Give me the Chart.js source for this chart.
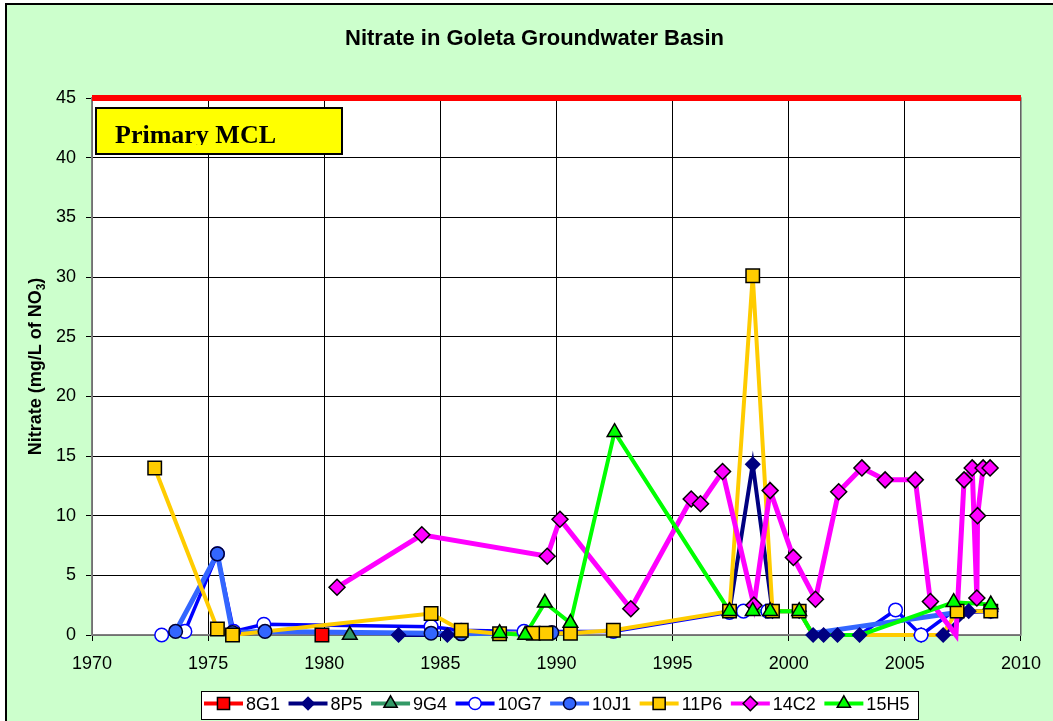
<!DOCTYPE html>
<html>
<head>
<meta charset="utf-8">
<title>Nitrate in Goleta Groundwater Basin</title>
<script src="https://cdn.jsdelivr.net/npm/chart.js@4.4.1/dist/chart.umd.min.js"></script>
<style>
  html, body { margin: 0; padding: 0; background: #fff; }
</style>
</head>
<body>
<canvas id="nitrateChart" width="1053" height="721"></canvas>
<script>
// ---- data (year, mg/L of NO3) ----
const yearTicks = [1970, 1975, 1980, 1985, 1990, 1995, 2000, 2005, 2010];
const nitrateTicks = [0, 5, 10, 15, 20, 25, 30, 35, 40, 45];
const mclLevel = 45;
const mclLabel = "Primary MCL";

const years8G1 = [1979.9];
const nitrate8G1 = [0];

const years8P5 = [1983.2, 1985.3, 1990, 1997.45, 1998.45, 1999.3, 2000.45, 2001.05, 2001.5, 2002.1, 2003.05, 2005.7, 2006.65, 2007.75, 2008.7];
const nitrate8P5 = [0, 0, null, 2, 14.3, 2, 2, 0, 0, 0, 0, 0, 0, 2, 2];

const years9G4 = [1981.1];
const nitrate9G4 = [0];

const years10G7 = [1973.0, 1974.0, 1975.4, 1976.1, 1977.4, 1984.6, 1985.9, 1988.6, 1992.45, 1997.45, 1998.05, 1999.1, 2001, 2003.05, 2004.6, 2005.7, 2006.95, 2008.7];
const nitrate10G7 = [0, 0.3, 6.8, 0.3, 0.9, 0.7, 0.4, 0.3, 0.3, 1.9, 2, 2, null, 0, 2.1, 0, 1.8, 2];

const years10J1 = [1973.6, 1975.4, 1976.05, 1977.45, 1984.6, 1985.9, 1989.8, 1995, 2001.2, 2006.95];
const nitrate10J1 = [0.3, 6.8, 0.2, 0.3, 0.15, 0.1, 0.2, null, 0.2, 1.8];

const years11P6 = [1972.7, 1975.4, 1976.05, 1984.6, 1985.9, 1987.55, 1989.0, 1989.55, 1990.6, 1992.45, 1997.45, 1998.45, 1999.3, 2000.45, 2001.05, 2006.6, 2007.25, 2008.7];
const nitrate11P6 = [14, 0.5, 0, 1.8, 0.4, 0.1, 0.15, 0.15, 0.15, 0.4, 2, 30.1, 2, 2, 0, 0, 2, 2];

const years14C2 = [1980.55, 1984.2, 1989.6, 1990.15, 1993.2, 1995.8, 1996.2, 1997.15, 1998.5, 1999.2, 2000.2, 2001.15, 2002.15, 2003.15, 2004.15, 2005.45, 2006.1, 2007.2, 2007.55, 2007.9, 2008.1, 2008.13, 2008.37, 2008.67];
const nitrate14C2 = [4, 8.4, 6.6, 9.7, 2.2, 11.4, 11, 13.7, 2.5, 12.1, 6.5, 3, 12, 14, 13, 13, 2.8, 0, 13, 14, 3.1, 10, 14, 14];

const years15H5 = [1987.55, 1988.65, 1989.5, 1990.6, 1992.5, 1997.45, 1998.45, 1999.2, 2000.45, 2001.05, 2003.1, 2007.1, 2008.7];
const nitrate15H5 = [0.15, 0, 2.7, 1.0, 17, 2, 2, 2, 2, 0, 0, 2.75, 2.55];

// points whose markers are covered in the original
const noMarker = {
  "10G7": [2003.05, 2006.95],
  "10J1": [2001.2, 2006.95],
  "11P6": [2001.05, 2006.6],
  "14C2": [2007.2],
  "15H5": [2001.05, 2003.1]
};

const FONT = '"Liberation Sans", Arial, sans-serif';

const series = [
  { name: "8G1",  years: years8G1,  values: nitrate8G1,  color: "#FF0000", width: 4,   style: "rect",    radius: 9.5, fill: "#FF0000", edge: "#000000" },
  { name: "8P5",  years: years8P5,  values: nitrate8P5,  color: "#000080", width: 4,   style: "rectRot", radius: 7,   fill: "#000080", edge: "#000080" },
  { name: "9G4",  years: years9G4,  values: nitrate9G4,  color: "#339966", width: 4,   style: "triangle",radius: 8.5, fill: "#339966", edge: "#000000" },
  { name: "10G7", years: years10G7, values: nitrate10G7, color: "#0000FF", width: 3.5, style: "circle",  radius: 6.8, fill: "#FFFFFF", edge: "#0000FF" },
  { name: "10J1", years: years10J1, values: nitrate10J1, color: "#3366FF", width: 5,   style: "circle",  radius: 6.8, fill: "#3366FF", edge: "#000033" },
  { name: "11P6", years: years11P6, values: nitrate11P6, color: "#FFCC00", width: 4,   style: "rect",    radius: 9.5, fill: "#FFCC00", edge: "#000000" },
  { name: "14C2", years: years14C2, values: nitrate14C2, color: "#FF00FF", width: 5,   style: "rectRot", radius: 8,   fill: "#FF00FF", edge: "#000000" },
  { name: "15H5", years: years15H5, values: nitrate15H5, color: "#00FF00", width: 4,   style: "triangle",radius: 8.5, fill: "#00FF00", edge: "#000000" }
];

function toPoints(s) {
  return s.years.map((yr, i) => ({ x: yr, y: s.values[i] }));
}

const datasets = [{
  label: "MCL",
  data: [{ x: yearTicks[0], y: mclLevel }, { x: yearTicks[yearTicks.length - 1], y: mclLevel }],
  showLine: true,
  borderColor: "#FF0000",
  borderWidth: 6,
  pointRadius: 0,
  clip: false,
  order: 300
}];

// lines first (Excel style), markers on top of all lines
series.forEach((s, i) => {
  datasets.push({
    label: s.name,
    data: toPoints(s),
    showLine: true,
    spanGaps: false,
    borderColor: s.color,
    borderWidth: s.width,
    pointRadius: 0,
    tension: 0,
    clip: false,
    order: 200 - i
  });
});
series.forEach((s, i) => {
  const hidden = noMarker[s.name] || [];
  datasets.push({
    label: s.name + " markers",
    data: toPoints(s),
    showLine: false,
    pointStyle: s.style,
    pointRadius: ctx => (ctx.raw && hidden.includes(ctx.raw.x)) ? 0 : s.radius,
    pointBackgroundColor: s.fill,
    pointBorderColor: s.edge,
    pointBorderWidth: 1.5,
    clip: false,
    order: 100 - i
  });
});

function drawMarker(ctx, style, x, y, r) {
  ctx.beginPath();
  if (style === "rect") {
    const h = Math.SQRT1_2 * r;
    ctx.rect(x - h, y - h, 2 * h, 2 * h);
  } else if (style === "rectRot") {
    ctx.moveTo(x - r, y); ctx.lineTo(x, y - r); ctx.lineTo(x + r, y); ctx.lineTo(x, y + r); ctx.closePath();
  } else if (style === "triangle") {
    ctx.moveTo(x, y - r);
    ctx.lineTo(x + r * Math.sin(Math.PI * 2 / 3), y - r * Math.cos(Math.PI * 2 / 3));
    ctx.lineTo(x - r * Math.sin(Math.PI * 2 / 3), y - r * Math.cos(Math.PI * 2 / 3));
    ctx.closePath();
  } else {
    ctx.arc(x, y, r, 0, Math.PI * 2);
  }
  ctx.fill();
  ctx.stroke();
}

const decor = {
  id: "decor",
  beforeDraw(chart) {
    const ctx = chart.ctx, a = chart.chartArea;
    ctx.save();
    ctx.fillStyle = "#FFFFFF";
    ctx.fillRect(0, 0, chart.width, chart.height);
    ctx.fillStyle = "#CCFFCC";
    ctx.fillRect(6, 4, chart.width, chart.height);
    ctx.strokeStyle = "#000000";
    ctx.lineWidth = 2;
    ctx.beginPath();
    ctx.moveTo(6, chart.height + 2);
    ctx.lineTo(6, 4);
    ctx.lineTo(chart.width + 2, 4);
    ctx.stroke();
    ctx.fillStyle = "#FFFFFF";
    ctx.fillRect(a.left, a.top, a.right - a.left, a.bottom - a.top);
    ctx.restore();
  },
  beforeDatasetsDraw(chart) {
    const ctx = chart.ctx, a = chart.chartArea;
    ctx.save();
    ctx.strokeStyle = "#808080";
    ctx.lineWidth = 1.5;
    ctx.strokeRect(a.left, a.top, a.right - a.left, a.bottom - a.top);
    ctx.restore();
  },
  afterDraw(chart) {
    const ctx = chart.ctx, a = chart.chartArea;
    ctx.save();

    // title
    ctx.fillStyle = "#000";
    ctx.font = "bold 22px " + FONT;
    ctx.textAlign = "center";
    ctx.textBaseline = "alphabetic";
    ctx.fillText("Nitrate in Goleta Groundwater Basin", 534.5, 45);

    // y axis title with subscript
    ctx.save();
    ctx.translate(34, (a.top + a.bottom) / 2);
    ctx.rotate(-Math.PI / 2);
    ctx.textAlign = "left";
    const t1 = "Nitrate (mg/L of NO", t2 = "3", t3 = ")";
    ctx.font = "bold 18px " + FONT;
    const w1 = ctx.measureText(t1).width, w3 = ctx.measureText(t3).width;
    ctx.font = "bold 12px " + FONT;
    const w2 = ctx.measureText(t2).width;
    let sx = -(w1 + w2 + w3) / 2;
    ctx.font = "bold 18px " + FONT;
    ctx.fillText(t1, sx, 6.5);
    ctx.font = "bold 12px " + FONT;
    ctx.fillText(t2, sx + w1, 11);
    ctx.font = "bold 18px " + FONT;
    ctx.fillText(t3, sx + w1 + w2, 6.5);
    ctx.restore();

    // Primary MCL box
    ctx.fillStyle = "#FFFF00";
    ctx.fillRect(96, 108, 246, 46);
    ctx.strokeStyle = "#000";
    ctx.lineWidth = 2;
    ctx.strokeRect(96, 108, 246, 46);
    ctx.save();
    ctx.beginPath();
    ctx.rect(97, 109, 244, 36);
    ctx.clip();
    ctx.fillStyle = "#000";
    ctx.font = 'bold 26px "Liberation Serif", "Times New Roman", serif';
    ctx.textAlign = "left";
    ctx.fillText(mclLabel, 115, 143);
    ctx.restore();

    // legend
    ctx.fillStyle = "#FFFFFF";
    ctx.fillRect(201, 691, 717, 28);
    ctx.strokeStyle = "#000";
    ctx.lineWidth = 1;
    ctx.strokeRect(201.5, 691.5, 717, 28);
    ctx.font = "18px " + FONT;
    ctx.textAlign = "left";
    ctx.textBaseline = "middle";
    let x = 204;
    const ly = 705;
    series.forEach(s => {
      ctx.strokeStyle = s.color;
      ctx.lineWidth = 4;
      ctx.beginPath();
      ctx.moveTo(x, ly - 1.5);
      ctx.lineTo(x + 39, ly - 1.5);
      ctx.stroke();
      ctx.fillStyle = s.fill;
      ctx.strokeStyle = s.edge;
      ctx.lineWidth = 1.5;
      drawMarker(ctx, s.style, x + 19.5, ly - 1.5, s.radius * 0.9);
      ctx.fillStyle = "#000";
      ctx.fillText(s.name, x + 42, ly);
      x += 42 + ctx.measureText(s.name).width + 8.5;
    });
    ctx.restore();
  }
};

new Chart(document.getElementById("nitrateChart"), {
  type: "scatter",
  data: { datasets: datasets },
  options: {
    responsive: false,
    animation: false,
    events: [],
    layout: { padding: { left: 0, right: 26, top: 98, bottom: 0 } },
    plugins: {
      legend: { display: false },
      tooltip: { enabled: false },
      title: { display: false }
    },
    scales: {
      x: {
        type: "linear",
        min: yearTicks[0],
        max: yearTicks[yearTicks.length - 1],
        afterBuildTicks: s => { s.ticks = yearTicks.map(v => ({ value: v })); },
        afterFit: s => { s.height = 86; },
        ticks: {
          callback: v => String(v),
          font: { size: 18, family: FONT },
          color: "#000",
          padding: 12,
          maxRotation: 0,
          autoSkip: false
        },
        grid: { color: "#000", lineWidth: 1, tickLength: 6 },
        border: { color: "#808080", width: 1.5 }
      },
      y: {
        min: nitrateTicks[0],
        max: nitrateTicks[nitrateTicks.length - 1],
        afterBuildTicks: s => { s.ticks = nitrateTicks.map(v => ({ value: v })); },
        afterFit: s => { s.width = 92; },
        ticks: {
          callback: v => String(v),
          font: { size: 18, family: FONT },
          color: "#000",
          padding: 10
        },
        grid: { color: "#000", lineWidth: 1, tickLength: 6 },
        border: { color: "#808080", width: 1.5 }
      }
    }
  },
  plugins: [decor]
});
</script>
</body>
</html>
